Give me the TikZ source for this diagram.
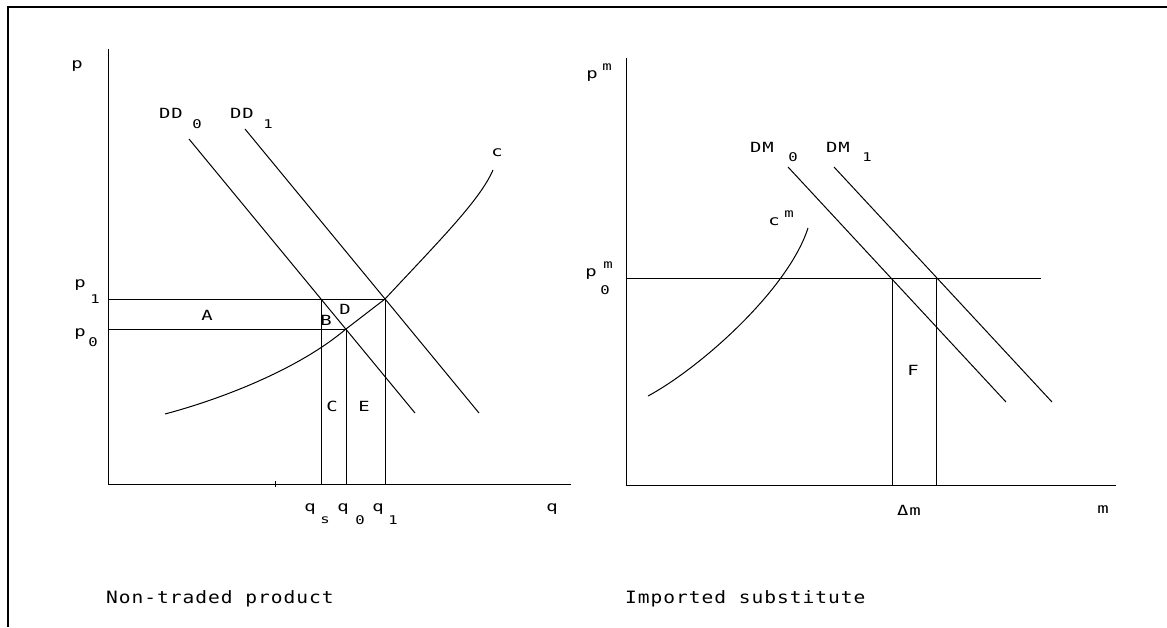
\documentclass[tikz,border=0pt]{standalone}
\usepackage{fontspec}
\newfontfamily\labfont[LetterSpace=5]{DejaVu Sans Mono}
\newcommand\mylb[1]{\scalebox{1.35}[1]{#1}}
\newcommand\mysb[1]{\scalebox{1.3}[1]{#1}}
\newcommand\mycap[1]{\scalebox{1.15}[1]{#1}}
\begin{document}
\begin{tikzpicture}[x=1pt,y=-1pt,
  ln/.style={line width=1pt,black},
  framestyle/.style={line width=2.4pt,black},
  lbl/.style={inner sep=0pt,font=\labfont\fontsize{14}{16}\selectfont},
  sublbl/.style={inner sep=0pt,font=\labfont\fontsize{12}{13}\selectfont},
  captxt/.style={inner sep=0pt,anchor=west,font=\labfont\fontsize{17}{19}\selectfont}]
\useasboundingbox (0,0) rectangle (1167,627);
% frame
\coordinate (FTL) at (8,7);
\coordinate (FTR) at (1167,7);
\coordinate (FBL) at (8,627);
\draw[framestyle] (FBL) -- (FTL) -- (FTR);

% ---------- left panel ----------
\coordinate (O1) at (108,484);
\coordinate (Y1) at (108,49);
\coordinate (X1) at (571,484);
\coordinate (Ta) at (275,481);
\coordinate (Tb) at (275,487);
\draw[ln] (Y1) -- (O1) -- (X1);
\draw[ln] (Ta) -- (Tb);

\coordinate (P1L) at (108,299);
\coordinate (P1R) at (385,299);
\coordinate (P0L) at (108,329);
\coordinate (P0R) at (346,329);
\coordinate (QsT) at (321,299);
\coordinate (QsB) at (321,484);
\coordinate (Q0B) at (346,484);
\coordinate (Q1B) at (385,484);
\draw[ln] (P1L) -- (P1R);
\draw[ln] (P0L) -- (P0R);
\draw[ln] (QsT) -- (QsB);
\draw[ln] (P0R) -- (Q0B);
\draw[ln] (P1R) -- (Q1B);

\coordinate (DDa) at (189,139);
\coordinate (DDb) at (415,413);
\coordinate (DDc) at (245,129);
\coordinate (DDd) at (479,413);
\draw[ln] (DDa) -- (DDb);
\draw[ln] (DDc) -- (DDd);

% supply curve c
\coordinate (S0) at (165,414);
\coordinate (S4) at (493,170);
\draw[ln,line join=round] (S0) .. controls (225,398) and (300,368) .. (P0R) -- (P1R)
  .. controls (440,240) and (480,200) .. (S4);

\node[lbl] (lp) at (77,66) {\mylb{p}};
\node[lbl] (lDD0) at (171,113) {\mylb{DD}};
\node[sublbl] (lDD0s) at (197,124) {\mysb{0}};
\node[lbl] (lDD1) at (242,113) {\mylb{DD}};
\node[sublbl] (lDD1s) at (268,124) {\mysb{1}};
\node[lbl] (lc) at (497,153) {\mylb{c}};
\node[lbl] (lp1) at (80,285) {\mylb{p}};
\node[sublbl] (lp1s) at (95,299) {\mysb{1}};
\node[lbl] (lp0) at (80,334) {\mylb{p}};
\node[sublbl] (lp0s) at (93,342) {\mysb{0}};
\node[lbl] (lA) at (207,315) {\mylb{A}};
\node[lbl] (lB) at (326,320) {\mylb{B}};
\node[lbl] (lD) at (345,309) {\mylb{D}};
\node[lbl] (lC) at (332,406) {\mylb{C}};
\node[lbl] (lE) at (364,406) {\mylb{E}};
\node[lbl] (lqs) at (310,509) {\mylb{q}};
\node[sublbl] (lqss) at (325,520) {\mysb{s}};
\node[lbl] (lq0) at (343,509) {\mylb{q}};
\node[sublbl] (lq0s) at (360,520) {\mysb{0}};
\node[lbl] (lq1) at (378,509) {\mylb{q}};
\node[sublbl] (lq1s) at (393,520) {\mysb{1}};
\node[lbl] (lq) at (552,509) {\mylb{q}};
\node[captxt] (cap1) at (106,599) {\mycap{Non-traded product}};

% ---------- right panel ----------
\coordinate (O2) at (626,485);
\coordinate (Y2) at (626,58);
\coordinate (X2) at (1116,485);
\draw[ln] (Y2) -- (O2) -- (X2);

\coordinate (PmL) at (626,278);
\coordinate (PmR) at (1041,278);
\coordinate (V1T) at (892,278);
\coordinate (V1B) at (892,485);
\coordinate (V2T) at (936,278);
\coordinate (V2B) at (936,485);
\draw[ln] (PmL) -- (PmR);
\draw[ln] (V1T) -- (V1B);
\draw[ln] (V2T) -- (V2B);

\coordinate (DMa) at (788,167);
\coordinate (DMb) at (1006,402);
\coordinate (DMc) at (834,167);
\coordinate (DMd) at (1052,402);
\draw[ln] (DMa) -- (DMb);
\draw[ln] (DMc) -- (DMd);

% import supply curve c^m
\coordinate (C0) at (648,396);
\coordinate (C1) at (808,228);
\draw[ln] (C0) .. controls (700,368) and (788,290) .. (C1);

\node[lbl] (rp) at (592,76) {\mylb{p}};
\node[sublbl] (rps) at (607,67) {\mysb{m}};
\node[lbl] (rDM0) at (762,147) {\mylb{DM}};
\node[sublbl] (rDM0s) at (793,157) {\mysb{0}};
\node[lbl] (rDM1) at (838,147) {\mylb{DM}};
\node[sublbl] (rDM1s) at (867,157) {\mysb{1}};
\node[lbl] (rc) at (774,222) {\mylb{c}};
\node[sublbl] (rcs) at (789,214) {\mysb{m}};
\node[lbl] (rp0) at (591,274) {\mylb{p}};
\node[sublbl] (rp0m) at (608,265) {\mysb{m}};
\node[sublbl] (rp0s) at (605,290) {\mysb{0}};
\node[lbl] (rF) at (913,370) {\mylb{F}};
\node[lbl] (rdm) at (909,510) {\mylb{Δm}};
\node[lbl] (rm) at (1103,510) {\mylb{m}};
\node[captxt] (cap2) at (625,599) {\mycap{Imported substitute}};
\end{tikzpicture}
\end{document}
